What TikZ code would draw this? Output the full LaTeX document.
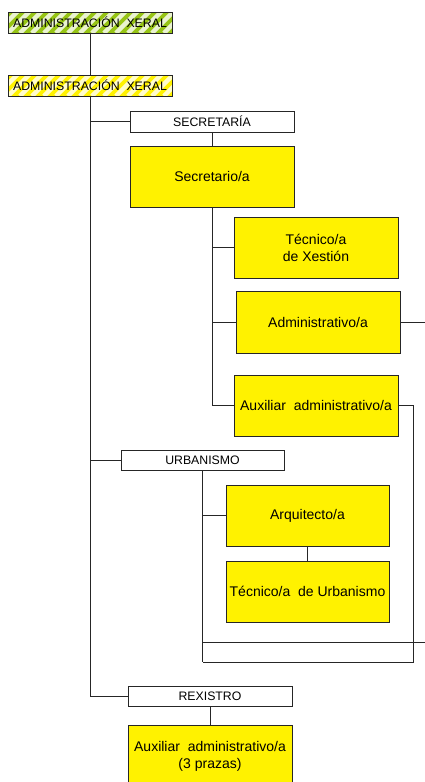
\documentclass[tikz,border=0pt]{standalone}
\usepackage{fontspec}
\setmainfont{Liberation Sans}
\definecolor{hatchgreen}{RGB}{150,196,20}
\begin{document}
\begin{tikzpicture}[x=1pt,y=-1pt,
  every node/.style={inner sep=0pt, outer sep=0pt},
  conn/.style={draw=black!85, line width=0.8pt},
  hdr/.style={draw=black!85, line width=0.8pt, fill=white, minimum width=164pt, minimum height=21pt, font=\fontsize{12.3}{14}\selectfont},
  post/.style={draw=black!85, line width=0.8pt, fill=yellow, minimum width=164pt, minimum height=61pt, align=center, font=\fontsize{14}{17}\selectfont},
  striped/.style={draw=black!85, line width=0.8pt, fill=#1, minimum width=164pt, minimum height=21pt, font=\fontsize{12.3}{14}\selectfont,
    path picture={\foreach \k in {0,...,16}
      {\draw[white, opacity=0.8, line width=4.5pt] ([xshift=\k*12pt-24pt]path picture bounding box.south west) -- ++(24pt,24pt);}}}
]
\useasboundingbox (0,0) rectangle (424,782);
% nodes
\node[striped=hatchgreen] (ax1) at (90,22.5) {ADMINISTRACIÓN\ \ XERAL};
\node[striped=yellow] (ax2) at (90,85.5) {ADMINISTRACIÓN\ \ XERAL};
\node[hdr] (sec) at (212,121.5) {SECRETARÍA};
\node[post] (seco) at (212,176.5) {Secretario/a};
\node[post] (tx) at (316,247.5) {Técnico/a\\de Xestión};
\node[post, minimum height=62pt] (adm) at (318,322) {Administrativo/a};
\node[post] (aux) at (316,405.5) {Auxiliar\ \ administrativo/a};
\node[hdr, minimum width=163pt, minimum height=20pt] (urb) at (202.5,460) {URBANISMO};
\node[post, minimum width=163pt] (arq) at (307.5,515.5) {Arquitecto/a};
\node[post, minimum width=163pt] (tu) at (307.5,591.5) {Técnico/a\ \ de Urbanismo};
\node[hdr, minimum height=20pt] (rex) at (210,696) {REXISTRO};
\node[post, minimum height=62pt] (aux3) at (210,756) {Auxiliar\ \ administrativo/a\\(3 prazas)};
% free ends
\coordinate (offa) at (440,322);
\coordinate (offb) at (440,642);
\coordinate (auxr) at (413,405.5);
\coordinate (urbb) at (202.5,662);
% trunk
\draw[conn] (ax1) -- (ax2);
\draw[conn] (ax2.south) |- (rex.west);
\draw[conn] (ax2.south) |- (sec.west);
\draw[conn] (ax2.south) |- (urb.west);
% secretaria
\draw[conn] (sec) -- (seco);
\draw[conn] (seco.south) |- (aux.west);
\draw[conn] (seco.south) |- (tx.west);
\draw[conn] (seco.south) |- (adm.west);
\draw[conn] (adm.east) -- (offa) -- (offb) -- (offb -| urb.south);
\draw[conn] (aux.east) -- (auxr) |- (urbb);
% urbanismo
\draw[conn] (urb.south) -- (urbb);
\draw[conn] (urb.south) |- (arq.west);
\draw[conn] (arq) -- (tu);
% rexistro
\draw[conn] (rex) -- (aux3);
\end{tikzpicture}
\end{document}
